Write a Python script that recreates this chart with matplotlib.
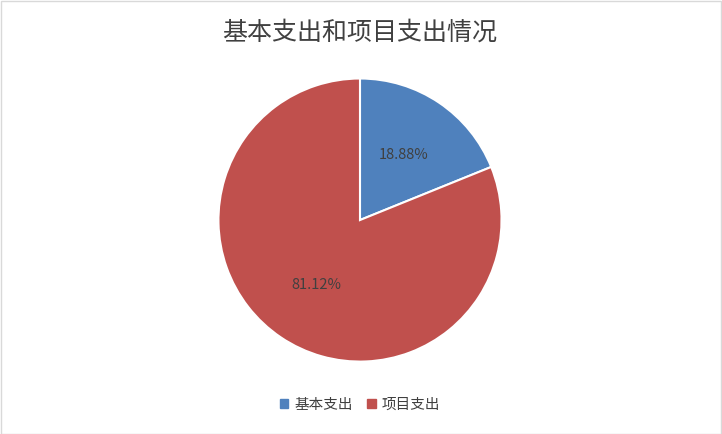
import matplotlib
matplotlib.use("Agg")
import matplotlib.pyplot as plt
import matplotlib.patches as mpatches

plt.rcParams['font.family'] = ['Noto Sans CJK SC', 'DejaVu Sans']

labels = ['基本支出', '项目支出']
values = [18.88, 81.12]
colors = ['#4F81BD', '#C0504D']

fig = plt.figure(figsize=(7.22, 4.34), dpi=100)
fig.patches.append(mpatches.Rectangle((0.001, 0.001), 0.997, 0.997, transform=fig.transFigure,
                                      fill=False, edgecolor='#D9D9D9', linewidth=1))

ax = fig.add_axes([0.4986 - 0.198, 0.493 - 0.3295, 0.396, 0.659])
ax.pie(values, colors=colors, startangle=90, counterclock=False,
       autopct='%.2f%%', pctdistance=0.55,
       wedgeprops=dict(edgecolor='white', linewidth=1.5),
       textprops=dict(fontsize=10.5, color='#404040'))
ax.set_xlim(-1.01, 1.01)
ax.set_ylim(-1.01, 1.01)
ax.set_aspect('equal')

fig.text(0.4986, 0.925, '基本支出和项目支出情况', ha='center', va='center',
         fontsize=18, color='#404040')

handles = [mpatches.Patch(color=c, label=l) for c, l in zip(colors, labels)]
fig.legend(handles=handles, loc='center', bbox_to_anchor=(0.4986, 0.067), ncol=2,
           frameon=False, fontsize=10.5, handlelength=0.6, handleheight=0.6,
           columnspacing=1.0, handletextpad=0.4, labelcolor='#404040')

fig.savefig('out.png', dpi=100)
